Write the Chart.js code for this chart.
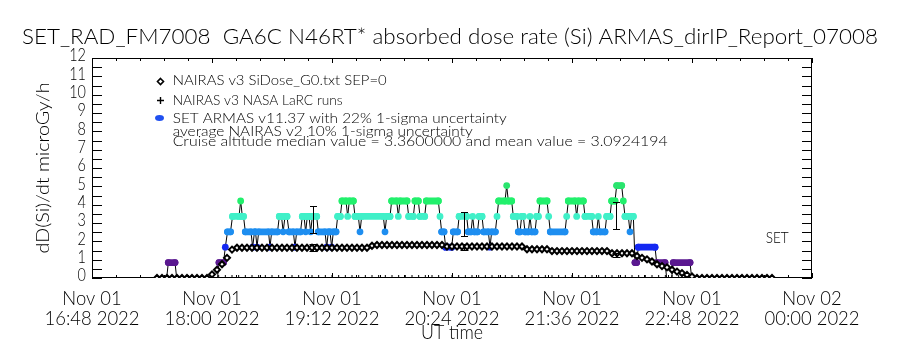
<!DOCTYPE html>
<html><head><meta charset="utf-8">
<script src="https://cdn.jsdelivr.net/npm/chart.js@4.4.1/dist/chart.umd.min.js"></script>
<style>html,body{margin:0;padding:0;background:#fff}#wrap{width:900px;height:350px}</style>
</head><body><div id="wrap"><canvas id="c" width="900" height="350"></canvas></div>
<script>
// ---------------- DATA (time = minutes after 2022-11-01 16:48 UT, dose rate in microGy/h) ----------------
const titleText = "SET_RAD_FM7008  GA6C N46RT* absorbed dose rate (Si) ARMAS_dirIP_Report_07008";
const yTitle = "dD(Si)/dt microGy/h";
const xTitle = "UT time";
const xTickValues = [0, 72, 144, 216, 288, 360, 432];
const xTickDates = ["Nov 01", "Nov 01", "Nov 01", "Nov 01", "Nov 01", "Nov 01", "Nov 02"];
const xTickTimes = ["16:48 2022", "18:00 2022", "19:12 2022", "20:24 2022", "21:36 2022", "22:48 2022", "00:00 2022"];
const yTickValues = [0, 1, 2, 3, 4, 5, 6, 7, 8, 9, 10, 11, 12];
const legendLabels = [
  "NAIRAS v3 SiDose_G0.txt SEP=0",
  "NAIRAS v3 NASA LaRC runs",
  "SET ARMAS v11.37 with 22% 1-sigma uncertainty",
  "average NAIRAS v2 10% 1-sigma uncertainty",
  "Cruise altitude median value = 3.3600000 and mean value = 3.0924194"
];
const seriesTag = "SET";

// NAIRAS v3 SiDose_G0 model
const naiT = [39,42,45,48,51,54,57,60,63,66,69,72,75,78,81,84,87,90,93,96,99,102,105,108,111,114,117,120,
  123,126,129,132,135,138,141,144,147,150,153,156,159,162,165,168,171,174,177,180,183,186,189,192,195,198,
  201,204,207,210,213,216,219,222,225,228,231,234,237,240,243,246,249,252,255,258,261,264,267,270,273,276,
  279,282,285,288,291,294,297,300,303,306,309,312,315,318,321,324,327,330,333,336,339,342,345,348,351,354,
  357,360,363,366,369,372,375,378,381,384,387,390,393,396,399,402,405,408];
const naiV = [0,0,0,0,0,0,0,0,0,0,0,
  0.2,0.45,0.75,1.1,1.55,
  1.65,1.65,1.65,1.65,1.65,1.65,1.65,1.65,1.65,1.65,1.65,1.65,1.65,1.65,1.65,1.65,1.65,1.65,1.65,1.65,1.65,1.65,1.65,1.65,1.65,1.65,1.65,
  1.76,
  1.8,1.8,1.8,1.8,1.8,1.8,1.8,1.8,1.8,1.8,1.8,1.8,1.8,1.8,
  1.72,1.72,1.72,1.72,1.72,1.72,1.72,1.72,1.72,1.72,1.72,1.72,1.72,1.72,1.72,1.72,
  1.57,1.57,1.57,1.57,1.57,
  1.47,1.47,1.47,1.47,1.47,1.47,1.47,1.47,1.47,1.47,1.47,1.47,
  1.35,1.35,1.35,1.35,1.35,
  1.2,1.1,1.02,0.9,0.75,0.65,0.58,0.45,0.35,0.27,0.17,0.08,
  0,0,0,0,0,0,0,0,0,0,0,0,0,0,0,0];

// NAIRAS v3 NASA LaRC runs (all at zero)
const larcT = [76,80,84,88,92,96,100,104,108,112,116,120,124,128,132,136,140,144,148,152,156,160,164,168,
  172,176,180,184,188,192,196,200,204,208,212,216,220,224,228,232,236,240,244,248,252,256,260,264,268,272,
  276,280,284,288,292,296,300,304,308,312,316,320,324,328,332,336,340,344,348,352,356,360];
const larcV = [0,0,0,0,0,0,0,0,0,0,0,0,0,0,0,0,0,0,0,0,0,0,0,0,0,0,0,0,0,0,0,0,0,0,0,0,
  0,0,0,0,0,0,0,0,0,0,0,0,0,0,0,0,0,0,0,0,0,0,0,0,0,0,0,0,0,0,0,0,0,0,0,0];

// SET ARMAS measurements: runs of constant dose rate (start time, end time, value)
const armasStart = [39.6,45.8,50.8,76.2,80.0,81.3,84.3,89.2,90.2,92.0,96.4,97.5,99.0,100.0,106.8,107.8,112.4,114.7,
  115.8,118.2,121.8,122.8,126.2,128.2,129.2,131.2,132.2,135.8,140.8,141.8,143.8,144.8,147.4,150.0,153.4,154.4,
  157.8,160.8,161.8,175.8,176.8,179.8,183.8,184.8,190.0,193.8,196.8,200.6,208.8,209.8,212.2,216.8,220.3,225.8,
  228.4,229.4,232.3,235.0,238.8,239.8,243.0,244.0,248.8,249.8,252.8,255.8,257.8,259.8,262.8,263.8,266.8,268.8,
  274.0,275.0,284.8,285.8,290.8,291.8,295.8,300.8,303.8,304.8,308.8,311.8,314.8,318.8,319.8,322.8,323.8,325.8,
  327.8,338.8,344.8,348.8,359.8];
const armasEnd = [44.8,49.8,75.3,78.9,80.0,83.1,88.2,89.2,90.9,95.4,96.4,98.1,99.0,105.9,106.8,111.3,113.7,114.7,
  117.0,120.8,121.8,125.1,127.2,128.2,130.2,131.2,134.8,139.8,140.8,142.8,143.8,146.4,149.0,152.4,153.4,156.8,
  159.8,160.8,174.8,175.8,178.8,182.8,183.8,189.0,192.8,195.8,199.6,207.8,208.8,211.2,215.8,219.3,224.8,227.4,
  228.4,231.3,234.0,237.8,238.8,242.0,243.0,247.8,248.8,251.8,254.8,256.8,258.8,261.8,262.8,265.8,267.8,273.0,
  274.0,283.8,284.8,289.8,290.8,294.8,299.8,302.8,303.8,307.8,310.8,313.8,317.8,318.8,321.8,322.8,324.8,326.8,
  337.8,343.8,347.8,358.8,406.8];
const armasDose = [0,0.84,0,0.84,1.68,2.52,3.36,4.2,3.36,2.52,1.68,2.52,1.68,2.52,1.68,2.52,3.36,2.52,
  3.36,2.52,1.68,2.52,3.36,2.52,3.36,2.52,3.36,2.52,1.68,2.52,1.68,2.52,3.36,4.2,3.36,4.2,
  3.36,2.52,3.36,2.52,3.36,4.2,3.36,4.2,3.36,4.2,3.36,4.2,3.36,2.52,1.68,2.52,3.36,2.52,
  3.36,2.52,3.36,2.52,1.68,2.52,3.36,4.2,5.04,4.2,3.36,2.52,3.36,2.52,3.36,2.52,3.36,4.2,
  3.36,2.52,3.36,4.2,3.36,4.2,3.36,2.52,3.36,2.52,3.36,4.2,5.04,4.2,3.36,2.52,3.36,0.84,
  1.68,0.84,0,0.84,0];

// uncertainty bars
const armasErrT = [132.6, 223.2, 314.4];
const armasErrLo = [2.44, 2.29, 2.66];
const armasErrHi = [3.93, 3.62, 4.16];
const naiErrT = [132.6, 223.2, 314.4];
const naiErrLo = [1.50, 1.55, 1.14];
const naiErrHi = [1.83, 1.88, 1.38];

// ---------------- STYLE ----------------
const levelColors = {"0.84":"#5a1890","1.68":"#1428f2","2.52":"#1e8ef0","3.36":"#40f0c8","4.2":"#22f06c","5.04":"#2ae46e"};
const armasColor = v => levelColors[String(v)] || "rgba(0,0,0,0)";
const FONT = 'Lato, "Liberation Sans", Arial, sans-serif';
const WEIGHT = '300 ';

const armasPts = [];
armasStart.forEach((s, i) => {
  armasPts.push({x: s, y: armasDose[i]});
  if (armasEnd[i] !== s) armasPts.push({x: armasEnd[i], y: armasDose[i]});
});
const naiPts = naiT.map((t, i) => ({x: t, y: naiV[i]}));
const larcPts = larcT.map((t, i) => ({x: t, y: larcV[i]}));

function drawText(ctx, str, x, y, size, opt) {
  opt = opt || {};
  ctx.save();
  ctx.font = WEIGHT + size + 'px ' + FONT;
  let sx = opt.sx || 1;
  if (opt.width) sx = opt.width / ctx.measureText(str).width;
  ctx.translate(x, y);
  if (opt.rot) ctx.rotate(opt.rot);
  ctx.scale(sx, 1);
  ctx.textAlign = opt.align || 'left';
  ctx.textBaseline = opt.baseline || 'alphabetic';
  ctx.fillStyle = '#000';
  ctx.fillText(str, 0, 0);
  ctx.restore();
}

const framePlugin = {
  id: 'frame',
  beforeDatasetsDraw(chart) {
    const {ctx, chartArea: a, scales: {x, y}} = chart;
    ctx.save();
    ctx.strokeStyle = '#000'; ctx.lineWidth = 1;
    ctx.strokeRect(a.left + 0.5, a.top + 0.5, a.right - a.left - 1, a.bottom - a.top - 1);
    ctx.beginPath();
    for (let i = 0; i <= 24; i++) {
      const v = i * 0.5;
      const py = Math.round(y.getPixelForValue(v)) + 0.5;
      const len = 10;
      ctx.moveTo(a.left, py); ctx.lineTo(a.left + len, py);
      ctx.moveTo(a.right, py); ctx.lineTo(a.right - len, py);
    }
    for (let i = 0; i <= 30; i++) {
      const t = i * 14.4;
      const px = Math.round(x.getPixelForValue(t)) + 0.5;
      const len = (i % 5 === 0) ? 5 : 3;
      ctx.moveTo(px, a.bottom); ctx.lineTo(px, a.bottom - len);
      ctx.moveTo(px, a.top); ctx.lineTo(px, a.top + len);
    }
    ctx.stroke();
    ctx.restore();
  },
  afterDatasetsDraw(chart) {
    const {ctx, scales: {x, y}} = chart;
    ctx.save();
    ctx.strokeStyle = '#000'; ctx.lineWidth = 1;
    ctx.beginPath();
    const bar = (t, lo, hi, hw) => {
      const px = Math.round(x.getPixelForValue(t)) + 0.5;
      const y1 = Math.round(y.getPixelForValue(lo)) + 0.5, y2 = Math.round(y.getPixelForValue(hi)) + 0.5;
      ctx.moveTo(px, y1); ctx.lineTo(px, y2);
      ctx.moveTo(px - hw, y1); ctx.lineTo(px + hw, y1);
      ctx.moveTo(px - hw, y2); ctx.lineTo(px + hw, y2);
    };
    armasErrT.forEach((t, i) => bar(t, armasErrLo[i], armasErrHi[i], 3.5));
    naiErrT.forEach((t, i) => bar(t, naiErrLo[i], naiErrHi[i], 4));
    ctx.stroke();
    ctx.restore();
  },
  afterDraw(chart) {
    const {ctx, chartArea: a, scales: {x, y}} = chart;
    drawText(ctx, titleText, 450, 44, 22, {width: 856, align: 'center'});
    yTickValues.forEach(v => drawText(ctx, String(v), a.left - 6, y.getPixelForValue(v) - 2, 17, {sx: 0.85, align: 'right', baseline: 'middle'}));
    ctx.save(); ctx.font = WEIGHT + '20px ' + FONT; const xs = 95 / ctx.measureText(xTickTimes[0]).width; ctx.restore();
    xTickValues.forEach((t, i) => {
      const px = x.getPixelForValue(t);
      drawText(ctx, xTickDates[i], px, 305, 20, {sx: xs, align: 'center'});
      drawText(ctx, xTickTimes[i], px, 325, 20, {sx: xs, align: 'center'});
    });
    drawText(ctx, xTitle, 452, 339, 20, {width: 62, align: 'center'});
    drawText(ctx, yTitle, 49, 168, 18, {width: 171, align: 'center', rot: -Math.PI / 2});
    const lx = 172.7;
    const base = [85, 104.5, 123, 136, 146];
    const widths = [214, 170, 334, 300, 495];
    legendLabels.forEach((s, i) => drawText(ctx, s, lx, base[i], 13, {width: widths[i]}));
    ctx.save();
    ctx.strokeStyle = '#000'; ctx.lineWidth = 1.6; ctx.fillStyle = '#fff';
    ctx.beginPath(); ctx.moveTo(160.5, 78.5); ctx.lineTo(163.5, 81.5); ctx.lineTo(160.5, 84.5); ctx.lineTo(157.5, 81.5); ctx.closePath();
    ctx.fill(); ctx.stroke();
    ctx.lineWidth = 1.4;
    ctx.beginPath(); ctx.moveTo(157, 100.5); ctx.lineTo(164, 100.5); ctx.moveTo(160.5, 97); ctx.lineTo(160.5, 104); ctx.stroke();
    ctx.fillStyle = '#2050f0';
    ctx.beginPath(); ctx.ellipse(159.5, 118, 4.5, 3, 0, 0, Math.PI * 2); ctx.fill();
    ctx.restore();
    drawText(ctx, seriesTag, 765.7, 242.7, 15, {width: 23});
  }
};

new Chart(document.getElementById('c'), {
  type: 'scatter',
  data: {
    datasets: [
      {
        data: naiPts, order: 0, showLine: false, clip: 0,
        pointStyle: 'rectRot', pointRadius: 3, pointBorderWidth: 2,
        pointBorderColor: '#000', pointBackgroundColor: '#fff'
      },
      {
        data: larcPts, order: 1, showLine: false, clip: 0,
        pointStyle: 'cross', pointRadius: 3, pointBorderWidth: 1, pointBorderColor: '#000'
      },
      {
        data: armasPts, order: 2, showLine: true, borderWidth: 6.8,
        borderCapStyle: 'round', borderJoinStyle: 'round',
        segment: { borderColor: c => (c.p0.parsed.y === c.p1.parsed.y ? armasColor(c.p0.parsed.y) : 'rgba(0,0,0,0)') },
        pointStyle: 'circle', pointRadius: 3.4, pointBorderWidth: 0,
        pointBackgroundColor: c => armasColor(c.raw ? c.raw.y : 0)
      },
      {
        data: armasPts, order: 3, showLine: true, borderWidth: 1, borderColor: '#000',
        pointRadius: 0, clip: 0
      }
    ]
  },
  options: {
    responsive: false, animation: false, events: [],
    layout: { padding: { left: 0, top: 58, right: 88, bottom: 0 } },
    plugins: { legend: { display: false }, tooltip: { enabled: false }, title: { display: false } },
    scales: {
      x: { type: 'linear', min: 0, max: 432, afterFit: s => { s.height = 72; },
           ticks: { display: false }, grid: { display: false, drawTicks: false }, border: { display: false } },
      y: { type: 'linear', min: 0, max: 12, afterFit: s => { s.width = 92; },
           ticks: { display: false }, grid: { display: false, drawTicks: false }, border: { display: false } }
    }
  },
  plugins: [framePlugin]
});
</script>
</body></html>
